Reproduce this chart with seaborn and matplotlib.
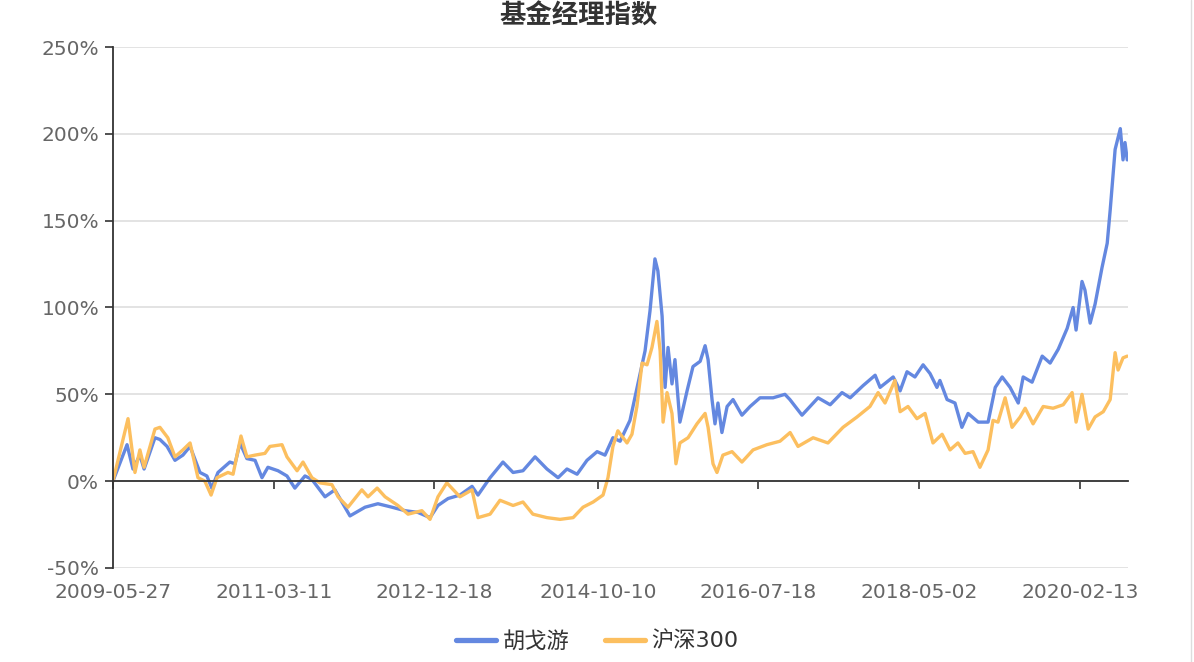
import pandas as pd
import matplotlib.pyplot as plt
import seaborn as sns
from matplotlib.ticker import FuncFormatter
from matplotlib.lines import Line2D

# Values (cumulative return, %)
manager_dates = [
    '2009-05-27', '2009-07-23', '2009-08-16', '2009-09-13', '2009-09-30', '2009-11-13', '2009-12-03',
    '2010-01-01', '2010-02-02', '2010-03-06', '2010-04-04', '2010-05-14', '2010-06-11', '2010-07-01',
    '2010-07-26', '2010-09-12', '2010-10-03', '2010-10-23', '2010-11-20', '2010-12-23', '2011-01-20',
    '2011-02-13', '2011-03-26', '2011-05-01', '2011-06-02', '2011-07-13', '2011-08-10', '2011-10-02',
    '2011-11-11', '2012-01-11', '2012-03-12', '2012-05-03', '2012-06-29', '2012-08-21', '2012-10-12',
    '2012-11-30', '2013-01-01', '2013-02-11', '2013-03-31', '2013-05-19', '2013-06-12', '2013-07-31',
    '2013-09-21', '2013-11-01', '2013-12-11', '2014-01-29', '2014-03-18', '2014-05-02', '2014-06-07',
    '2014-07-18', '2014-08-27', '2014-10-07', '2014-11-08', '2014-12-10', '2015-01-08', '2015-02-17',
    '2015-03-30', '2015-04-19', '2015-05-09', '2015-05-29', '2015-06-10', '2015-06-27', '2015-07-09',
    '2015-07-21', '2015-08-06', '2015-08-18', '2015-09-07', '2015-10-06', '2015-10-30', '2015-11-28',
    '2015-12-18', '2015-12-30', '2016-01-15', '2016-01-27', '2016-02-08', '2016-02-24', '2016-03-16',
    '2016-04-09', '2016-05-15', '2016-06-17', '2016-07-27', '2016-09-18', '2016-11-05', '2016-11-25',
    '2017-01-13', '2017-03-19', '2017-05-07', '2017-06-24', '2017-07-27', '2017-09-17', '2017-11-05',
    '2017-11-25', '2018-01-17', '2018-02-14', '2018-03-14', '2018-04-15', '2018-05-18', '2018-06-15',
    '2018-07-13', '2018-07-25', '2018-08-23', '2018-09-24', '2018-10-22', '2018-11-16', '2018-12-27',
    '2019-02-05', '2019-03-06', '2019-04-03', '2019-05-05', '2019-06-07', '2019-06-27', '2019-08-02',
    '2019-09-12', '2019-10-14', '2019-11-16', '2019-12-22', '2020-01-15', '2020-01-27', '2020-02-20',
    '2020-03-03', '2020-03-24', '2020-04-13', '2020-05-11', '2020-06-01', '2020-06-13', '2020-07-03',
    '2020-07-24', '2020-08-04', '2020-08-12', '2020-08-21',
]
manager_values = [
    0, 21, 7, 15, 7, 25, 24,
    20, 12, 15, 20, 5, 3, -4,
    5, 11, 10, 22, 13, 12, 2,
    8, 6, 3, -4, 3, 1, -9,
    -5, -20, -15, -13, -15, -17, -18,
    -21, -14, -10, -8, -3, -8, 2,
    11, 5, 6, 14, 7, 2, 7,
    4, 12, 17, 15, 25, 23, 35,
    62, 75, 98, 128, 121, 95, 54,
    77, 56, 70, 34, 52, 66, 69,
    78, 70, 47, 33, 45, 28, 43,
    47, 38, 43, 48, 48, 50, 47,
    38, 48, 44, 51, 48, 55, 61,
    54, 60, 52, 63, 60, 67, 62,
    54, 58, 47, 45, 31, 39, 34,
    34, 54, 60, 54, 45, 60, 57,
    72, 68, 76, 88, 100, 87, 115,
    110, 91, 102, 123, 137, 156, 191,
    203, 185, 195, 185,
]

hs300_dates = [
    '2009-05-27', '2009-07-27', '2009-08-24', '2009-09-13', '2009-09-30', '2009-11-13', '2009-12-03',
    '2010-01-04', '2010-02-02', '2010-03-06', '2010-04-04', '2010-05-06', '2010-06-03', '2010-06-28',
    '2010-07-22', '2010-09-04', '2010-09-25', '2010-10-27', '2010-11-20', '2010-12-23', '2011-02-01',
    '2011-02-21', '2011-04-11', '2011-05-01', '2011-06-11', '2011-07-05', '2011-08-10', '2011-09-12',
    '2011-10-30', '2011-11-24', '2012-01-03', '2012-02-28', '2012-03-24', '2012-04-30', '2012-06-01',
    '2012-07-23', '2012-09-02', '2012-10-28', '2012-11-30', '2013-01-01', '2013-02-06', '2013-03-11',
    '2013-03-31', '2013-05-19', '2013-06-12', '2013-07-31', '2013-09-09', '2013-11-01', '2013-12-11',
    '2014-01-20', '2014-03-18', '2014-05-10', '2014-07-02', '2014-08-11', '2014-09-21', '2014-10-31',
    '2014-11-20', '2014-12-10', '2014-12-30', '2015-01-20', '2015-02-05', '2015-02-25', '2015-03-17',
    '2015-04-07', '2015-04-27', '2015-05-17', '2015-06-06', '2015-06-19', '2015-07-01', '2015-07-17',
    '2015-08-06', '2015-08-22', '2015-09-07', '2015-10-10', '2015-11-15', '2015-12-18', '2015-12-30',
    '2016-01-19', '2016-02-04', '2016-02-28', '2016-04-05', '2016-05-15', '2016-06-29', '2016-08-24',
    '2016-10-16', '2016-11-26', '2016-12-28', '2017-02-27', '2017-04-28', '2017-06-28', '2017-08-24',
    '2017-10-15', '2017-11-17', '2017-12-15', '2018-01-24', '2018-02-14', '2018-03-18', '2018-04-23',
    '2018-05-26', '2018-06-27', '2018-08-03', '2018-09-04', '2018-10-06', '2018-11-04', '2018-12-06',
    '2019-01-03', '2019-02-05', '2019-02-25', '2019-03-17', '2019-04-15', '2019-05-13', '2019-06-15',
    '2019-07-05', '2019-08-06', '2019-09-16', '2019-10-26', '2019-12-06', '2020-01-11', '2020-01-27',
    '2020-02-20', '2020-03-16', '2020-04-13', '2020-05-16', '2020-06-13', '2020-07-03', '2020-07-15',
    '2020-08-04', '2020-08-21',
]
hs300_values = [
    0, 36, 5, 18, 8, 30, 31,
    25, 14, 18, 22, 2, 0, -8,
    2, 5, 4, 26, 14, 15, 16,
    20, 21, 14, 6, 11, 2, -1,
    -2, -9, -15, -5, -9, -4, -9,
    -14, -19, -17, -22, -9, -1, -6,
    -9, -5, -21, -19, -11, -14, -12,
    -19, -21, -22, -21, -15, -12, -8,
    2, 20, 29, 25, 22, 27, 43,
    68, 67, 77, 92, 75, 34, 51,
    39, 10, 22, 25, 33, 39, 31,
    10, 5, 15, 17, 11, 18, 21,
    23, 28, 20, 25, 22, 31, 37,
    43, 51, 45, 58, 40, 43, 36,
    39, 22, 27, 18, 22, 16, 17,
    8, 18, 35, 34, 48, 31, 37,
    42, 33, 43, 42, 44, 51, 34,
    50, 30, 37, 40, 47, 74, 64,
    71, 72,
]

series_names = ['胡戈游', '沪深300']
x_tick_labels = ['2009-05-27', '2011-03-11', '2012-12-18', '2014-10-10',
                 '2016-07-18', '2018-05-02', '2020-02-13']
y_ticks = [-50, 0, 50, 100, 150, 200, 250]

colors = ['#6488e0', '#fcbf5f']

df = pd.concat([
    pd.DataFrame({'date': pd.to_datetime(manager_dates), 'value': manager_values, 'name': series_names[0]}),
    pd.DataFrame({'date': pd.to_datetime(hs300_dates), 'value': hs300_values, 'name': series_names[1]}),
], ignore_index=True)

sns.set_style('white')
plt.rcParams['font.family'] = ['DejaVu Sans', 'Noto Sans CJK SC']

fig = plt.figure(figsize=(11.94, 6.62), dpi=100)
ax = fig.add_axes([0.0946, 0.142, 0.8501, 0.787])

sns.lineplot(data=df, x='date', y='value', hue='name', palette=colors,
             linewidth=2.4, estimator=None, legend=False, ax=ax)

ax.set_xlim(pd.Timestamp('2009-05-27'), pd.Timestamp('2020-08-24'))
ax.set_ylim(-50, 250)
ax.set_yticks(y_ticks)
ax.yaxis.set_major_formatter(FuncFormatter(lambda v, _: f'{v:.0f}%'))
ax.set_xticks(pd.to_datetime(x_tick_labels))
ax.set_xticklabels(x_tick_labels)
ax.set_xlabel('')
ax.set_ylabel('')

ax.yaxis.grid(True, color='#e0e0e0', linewidth=1.3)
ax.xaxis.grid(False)
ax.set_axisbelow(True)

for side in ['top', 'right']:
    ax.spines[side].set_visible(False)
ax.spines['bottom'].set_position(('data', 0))
ax.spines['bottom'].set_color('#333333')
ax.spines['bottom'].set_linewidth(1.3)
ax.spines['left'].set_color('#333333')
ax.spines['left'].set_linewidth(1.3)

ax.tick_params(axis='y', left=True, length=6, width=1.2, color='#333333',
               pad=4, labelsize=14.5, labelcolor='#666666')
ax.tick_params(axis='x', bottom=True, length=6, width=1.2, color='#333333',
               pad=67, labelsize=14.5, labelcolor='#666666')

fig.text(578 / 1194, 1 - 16 / 662, '基金经理指数', ha='center', va='center',
         fontsize=19, fontweight='bold', color='#333333', family='Noto Sans CJK SC')

handles = [Line2D([0], [0], color=c, lw=3.8) for c in colors]
fig.legend(handles, series_names, loc='center', bbox_to_anchor=(0.5, 1 - 641 / 662),
           ncol=2, frameon=False, fontsize=16, handlelength=1.8, handletextpad=0.3,
           columnspacing=1.6, labelcolor='#333333')

fig.add_artist(Line2D([0.9975, 0.9975], [0, 1], color='#dddddd', lw=1))

fig.savefig('out.png', dpi=100)
